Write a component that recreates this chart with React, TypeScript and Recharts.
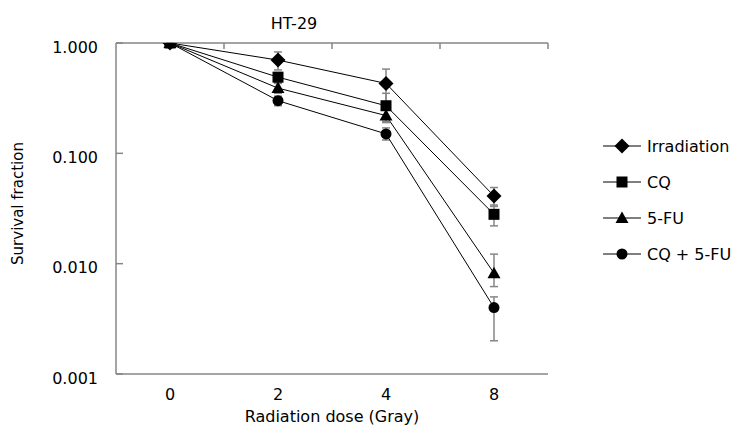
import { LineChart, Line, XAxis, YAxis, ErrorBar, Legend } from "recharts";

const FONT = "'DejaVu Sans', Verdana, sans-serif";
const AXIS_COLOR = "#868686";

const DOSES = ["0", "2", "4", "8"];
const IRRADIATION = [1, 0.7, 0.43, 0.041];
const IRRADIATION_ERR = [[0, 0], [0.13, 0.13], [0.15, 0.15], [0.008, 0.008]];
const CQ = [1, 0.49, 0.27, 0.028];
const CQ_ERR = [[0, 0], [0.05, 0.05], [0.075, 0.08], [0.006, 0.006]];
const FU = [1, 0.39, 0.22, 0.0082];
const FU_ERR = [[0, 0], [0.04, 0.04], [0.03, 0.03], [0.002, 0.004]];
const COMBO = [1, 0.3, 0.15, 0.004];
const COMBO_ERR = [[0, 0], [0.03, 0.03], [0.018, 0.02], [0.002, 0.001]];
const Y_TICKS = [0.001, 0.01, 0.1, 1];

// layout
const W = 734;
const H = 427;
const PLOT_TOP = 43;
const Y_AXIS_W = 116;
const RIGHT = 186;
const BAND = (W - Y_AXIS_W - RIGHT) / DOSES.length;

type Shape = "diamond" | "square" | "triangle" | "circle";

const SERIES: { key: string; name: string; shape: Shape }[] = [
  { key: "irr", name: "Irradiation", shape: "diamond" },
  { key: "cq", name: "CQ", shape: "square" },
  { key: "fu", name: "5-FU", shape: "triangle" },
  { key: "combo", name: "CQ + 5-FU", shape: "circle" },
];
// square ends up on top at dose 0, like the original
const DRAW_ORDER = ["irr", "fu", "combo", "cq"];

const data = DOSES.map((d, i) => ({
  dose: d,
  irr: IRRADIATION[i],
  irrErr: IRRADIATION_ERR[i],
  cq: CQ[i],
  cqErr: CQ_ERR[i],
  fu: FU[i],
  fuErr: FU_ERR[i],
  combo: COMBO[i],
  comboErr: COMBO_ERR[i],
}));

function Marker({ shape, cx, cy }: { shape: Shape; cx: number; cy: number }) {
  if (shape === "diamond") {
    const r = 7.5;
    return <polygon points={`${cx},${cy - r} ${cx + r},${cy} ${cx},${cy + r} ${cx - r},${cy}`} fill="#000" />;
  }
  if (shape === "square") {
    return <rect x={cx - 5.5} y={cy - 5.5} width={11} height={11} fill="#000" />;
  }
  if (shape === "triangle") {
    return <polygon points={`${cx},${cy - 6.5} ${cx + 6.5},${cy + 5} ${cx - 6.5},${cy + 5}`} fill="#000" />;
  }
  return <circle cx={cx} cy={cy} r={5.5} fill="#000" />;
}

// bottom label + the little tick on the top border between categories
function XTick({ x, y, payload }: any) {
  return (
    <g>
      <text x={x} y={y} dy="0.71em" textAnchor="middle" fill="#000" fontSize={16} fontFamily={FONT}>
        {payload.value}
      </text>
      <line x1={x + BAND / 2} x2={x + BAND / 2} y1={PLOT_TOP} y2={PLOT_TOP + 6} stroke={AXIS_COLOR} strokeWidth={1.5} />
    </g>
  );
}

// label outside, tick mark pointing into the plot
function YTick({ x, y, payload }: any) {
  const axisX = x + 18;
  return (
    <g>
      <text x={x} y={y + 4} dy="0.355em" textAnchor="end" fill="#000" fontSize={16} fontFamily={FONT}>
        {Number(payload.value).toFixed(3)}
      </text>
      <line x1={axisX} x2={axisX + 7} y1={y} y2={y} stroke={AXIS_COLOR} strokeWidth={1.5} />
    </g>
  );
}

function YTitle({ viewBox }: any) {
  const cx = viewBox.x + 18;
  const cy = viewBox.y + viewBox.height / 2 - 5;
  return (
    <text
      x={cx}
      y={cy}
      transform={`rotate(-90, ${cx}, ${cy})`}
      textAnchor="middle"
      dominantBaseline="central"
      fill="#000"
      fontSize={15}
      fontFamily={FONT}
    >
      Survival fraction
    </text>
  );
}

function LegendContent() {
  return (
    <div style={{ fontFamily: FONT, fontSize: 16, color: "#000" }}>
      {SERIES.map((s) => (
        <div key={s.key} style={{ display: "flex", alignItems: "center", height: 36 }}>
          <svg width={40} height={16}>
            <line x1={1} x2={39} y1={8} y2={8} stroke="#000" />
            <Marker shape={s.shape} cx={20} cy={8} />
          </svg>
          <span style={{ marginLeft: 5 }}>{s.name}</span>
        </div>
      ))}
    </div>
  );
}

export default function App() {
  return (
    <div style={{ position: "absolute", left: 0, top: 0, width: W, height: H, fontFamily: FONT }}>
      <div
        style={{
          position: "absolute",
          left: 244,
          width: 100,
          top: 14,
          textAlign: "center",
          fontSize: 16,
          color: "#000",
        }}
      >
        HT-29
      </div>
      <LineChart width={W} height={H} data={data} margin={{ top: PLOT_TOP, right: RIGHT, bottom: 0, left: 0 }}>
        <XAxis
          dataKey="dose"
          scale="band"
          height={53}
          tickLine={false}
          tickSize={6}
          tickMargin={9}
          axisLine={{ stroke: AXIS_COLOR, strokeWidth: 1.5 }}
          tick={XTick}
          label={{ value: "Radiation dose (Gray)", position: "insideBottom", offset: 5, fill: "#000", fontSize: 16, fontFamily: FONT }}
        />
        <XAxis
          xAxisId="top"
          orientation="top"
          mirror
          tick={false}
          tickLine={false}
          axisLine={{ stroke: AXIS_COLOR, strokeWidth: 1.5 }}
        />
        <YAxis
          scale="log"
          domain={[0.001, 1]}
          ticks={Y_TICKS}
          allowDataOverflow
          width={Y_AXIS_W}
          tickLine={false}
          tickSize={8}
          tickMargin={10}
          axisLine={{ stroke: AXIS_COLOR, strokeWidth: 1.5 }}
          tick={YTick}
          label={<YTitle />}
        />
        <Legend
          layout="vertical"
          align="center"
          verticalAlign="middle"
          content={<LegendContent />}
          wrapperStyle={{ left: 602, top: 128, width: 140 }}
        />
        {DRAW_ORDER.map((k) => SERIES.find((s) => s.key === k)!).map((s) => (
          <Line
            key={s.key}
            dataKey={s.key}
            name={s.name}
            stroke="#000"
            strokeWidth={1}
            isAnimationActive={false}
            dot={(p: any) => <Marker key={`${s.key}-${p.index}`} shape={s.shape} cx={p.cx} cy={p.cy} />}
            activeDot={false}
          >
            <ErrorBar dataKey={`${s.key}Err`} width={4} stroke={AXIS_COLOR} strokeWidth={1.5} />
          </Line>
        ))}
      </LineChart>
    </div>
  );
}
